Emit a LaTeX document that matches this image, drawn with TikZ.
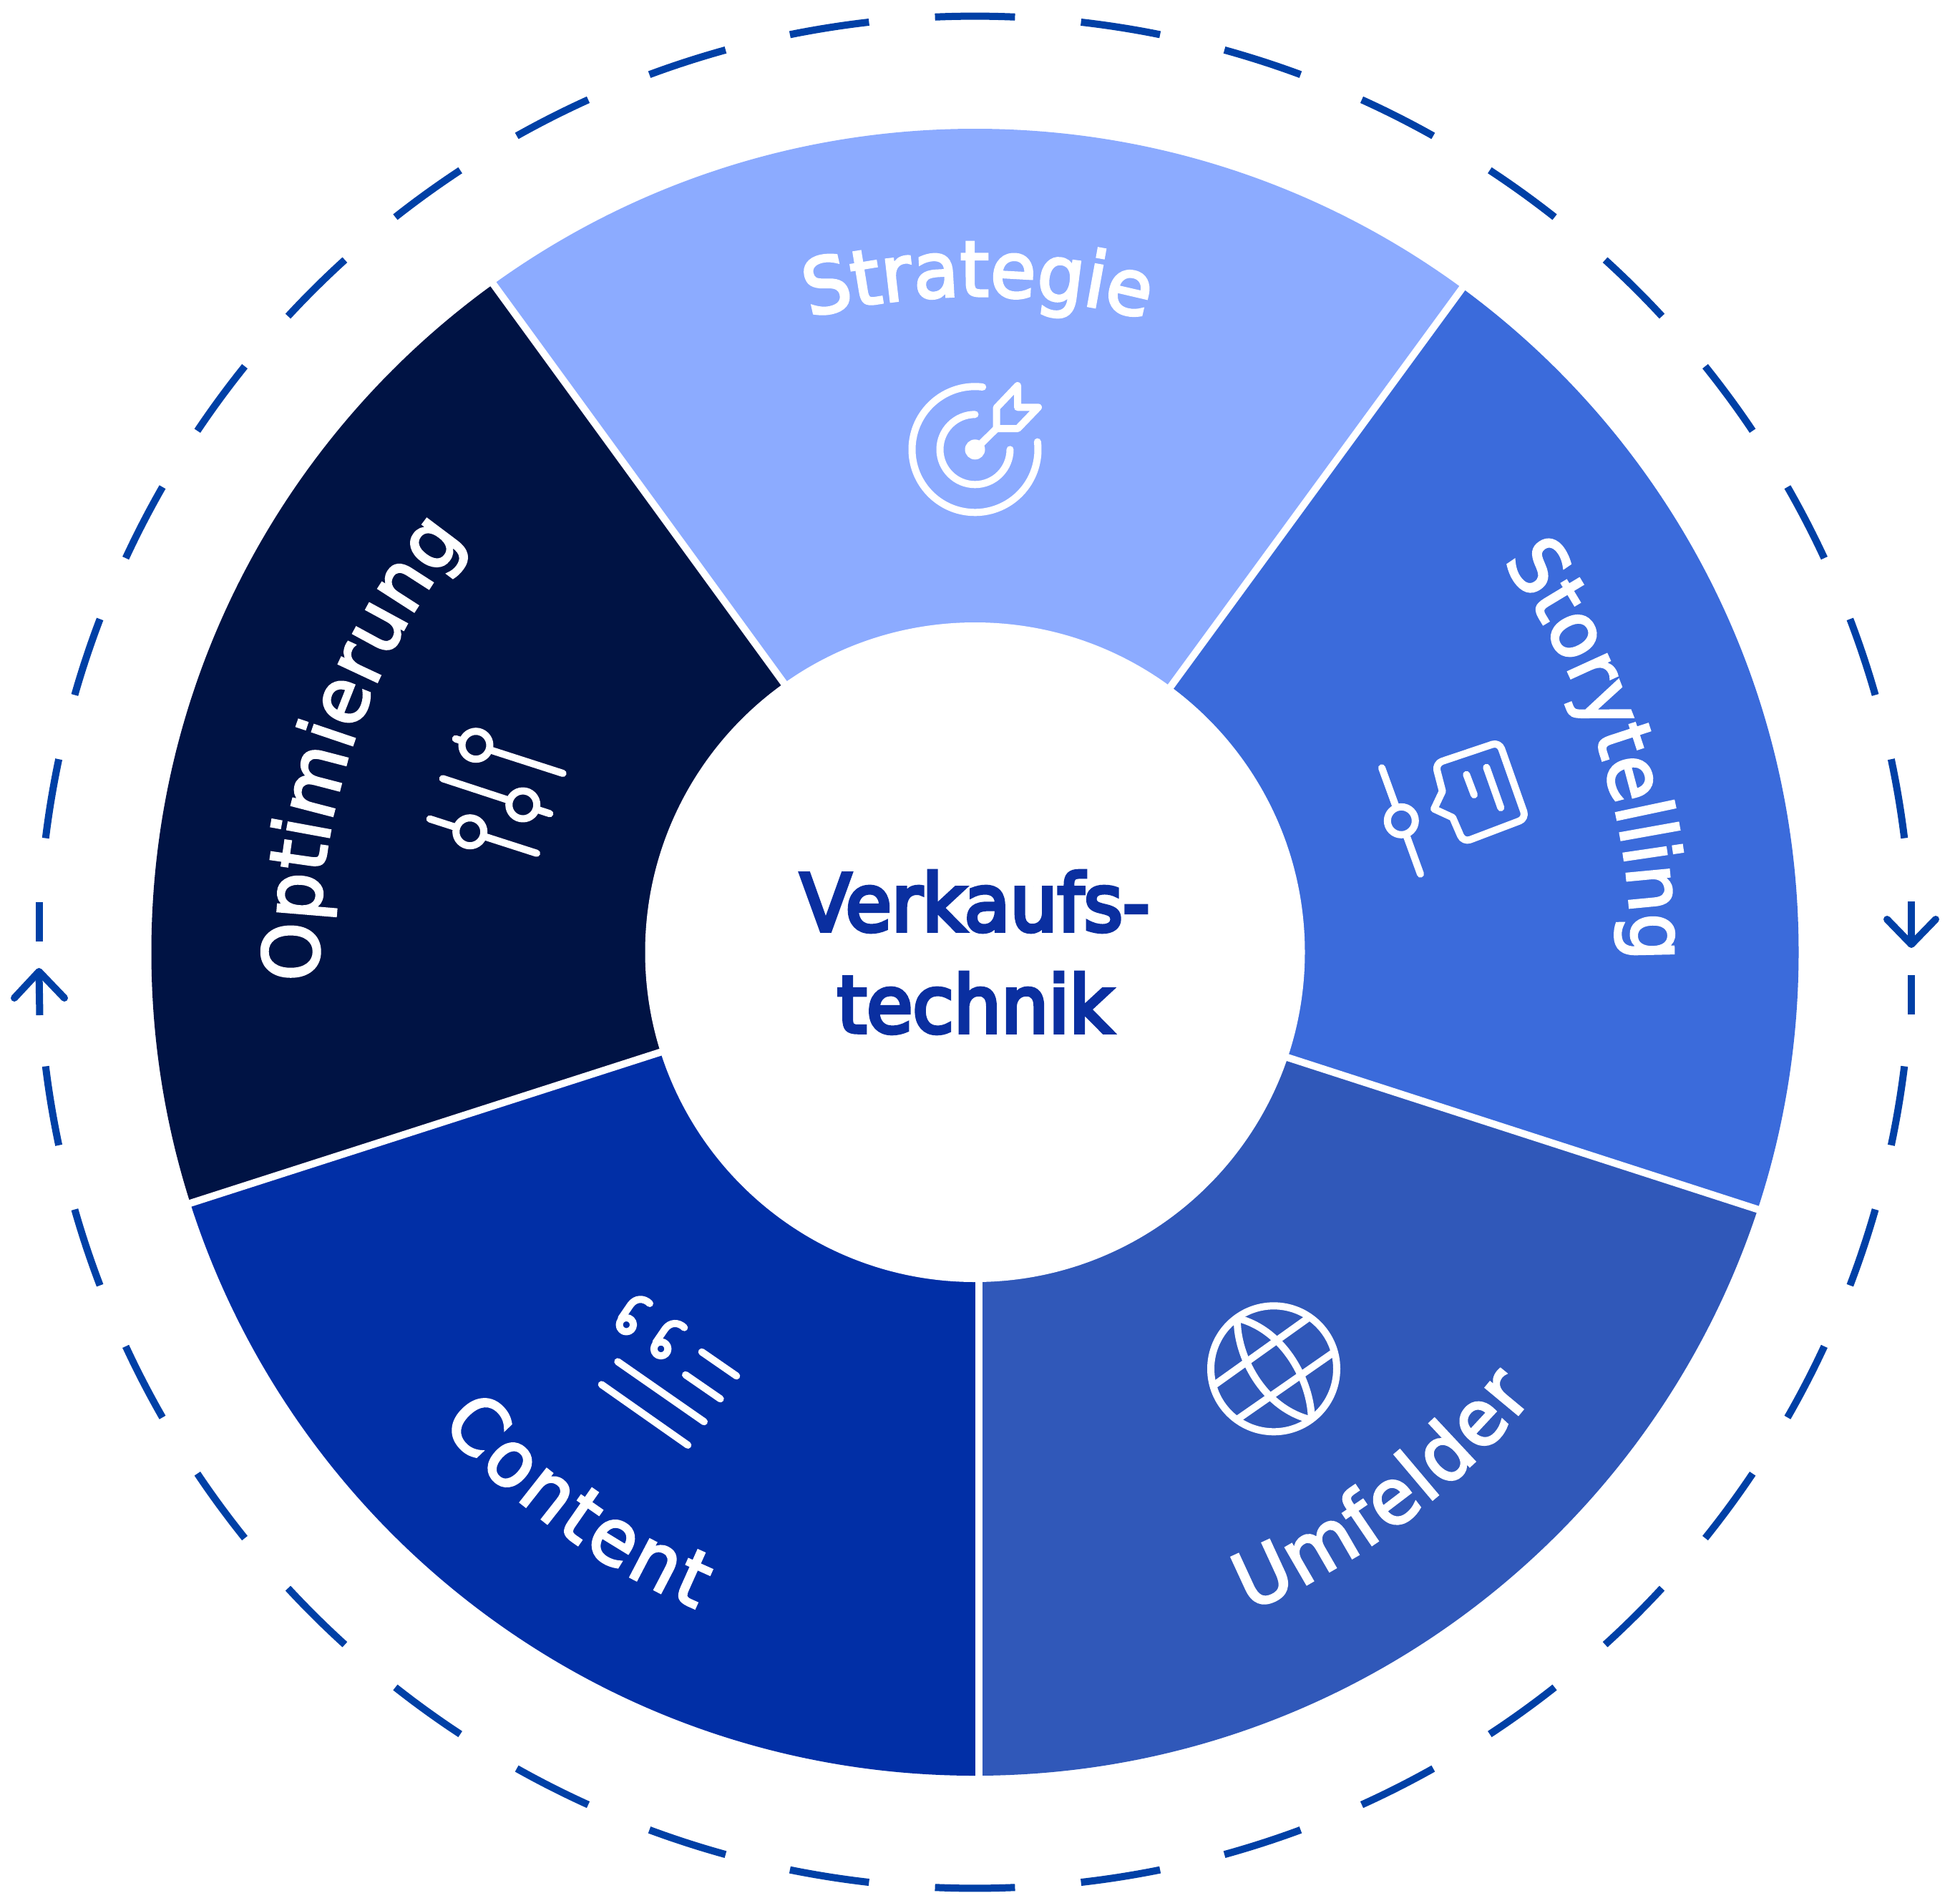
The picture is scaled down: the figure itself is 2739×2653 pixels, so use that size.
\documentclass[tikz,border=0pt]{standalone}
\usepackage{fontspec}
\usetikzlibrary{decorations.text}
\setmainfont{Liberation Sans}
\newfontfamily\rfont[FakeBold=3,FakeStretch=0.96]{DejaVu Sans}
\newfontfamily\cfont[FakeBold=5,FakeStretch=0.95]{DejaVu Sans}
\newcommand\ringtext{\rfont\fontsize{108}{108}\selectfont\color{white}}
\definecolor{cA}{HTML}{8CABFF}
\definecolor{cB}{HTML}{3B6BDB}
\definecolor{cC}{HTML}{3058B9}
\definecolor{cD}{HTML}{012FA6}
\definecolor{cE}{HTML}{001344}
\definecolor{ringc}{HTML}{0040A6}
\definecolor{titlec}{HTML}{0A2FA0}
\tikzset{
  icon/.style={draw=white,line width=10,line cap=round,line join=round},
  sep/.style={draw=white,line width=10,shorten >=-10pt,shorten <=-10pt},
  ringdash/.style={draw=ringc,line width=10},
  arrowdash/.style={draw=ringc,line width=10,line join=round,line cap=round},
  curved/.style={decorate,decoration={text along path,text align={fit to path},text={#1}}},
}
\begin{document}
\begin{tikzpicture}[x=1pt,y=-1pt]
\useasboundingbox (0,0) rectangle (2739,2653);
% line end points
\coordinate (Ai) at (1635,961);  \coordinate (Ao) at (2044,402);
\coordinate (Bi) at (1799,1478); \coordinate (Bo) at (2458,1691);
\coordinate (Ci) at (1368,1792); \coordinate (Co) at (1368,2482);
\coordinate (Di) at (922,1471);  \coordinate (Do) at (265.5,1682);
\coordinate (Ei) at (1097,957);  \coordinate (Eo) at (690,398);
\begin{scope}[shift={(1362.5,1331)},y=1pt]
  \coordinate (O) at (0,0);
  \coordinate (fA) at (90:1600); \coordinate (fB) at (18:1600);
  \coordinate (fC) at (-54:1600); \coordinate (fD) at (-126:1600); \coordinate (fE) at (162:1600);
  % ring
  \foreach \base in {90,-90}{
    \foreach \k in {-9,-8,...,9}{
      \draw[ringdash] ({\base+8.95*\k+2.45}:1308.5) arc[start angle={\base+8.95*\k+2.45},end angle={\base+8.95*\k-2.45},radius=1308.5];
    }
  }
  \begin{scope}
    \clip (0,0) circle[radius=1151];
    \fill[cA] (O) -- (Ei) -- (Eo) -- (fA) -- (Ao) -- (Ai) -- cycle;
    \fill[cB] (O) -- (Ai) -- (Ao) -- (fB) -- (Bo) -- (Bi) -- cycle;
    \fill[cC] (O) -- (Bi) -- (Bo) -- (fC) -- (Co) -- (Ci) -- cycle;
    \fill[cD] (O) -- (Ci) -- (Co) -- (fD) -- (Do) -- (Di) -- cycle;
    \fill[cE] (O) -- (Di) -- (Do) -- (fE) -- (Eo) -- (Ei) -- cycle;
  \end{scope}
  \fill[white] (0,0) circle[radius=461];
  % curved labels
  \path[curved={|\ringtext|Strategie}] (104.6:917) arc[start angle=104.6,end angle=75.4,radius=917];
  \path[curved={|\ringtext|Storytelling}] (36.5:917) arc[start angle=36.5,end angle=0.3,radius=917];
  \path[curved={|\ringtext|Optimierung}] (182.5:917) arc[start angle=182.5,end angle=141,radius=917];
  \path[curved={|\ringtext|Content}] (221.5:997) arc[start angle=221.5,end angle=247,radius=997];
  \path[curved={|\ringtext|Umfelder}] (-67.4:997) arc[start angle=-67.4,end angle=-38.5,radius=997];
  % target arcs
  \begin{scope}[shift={(0,702.7)}]
    \draw[icon] (83:88) arc[start angle=83,end angle=367,radius=88];
    \draw[icon] (90:49) arc[start angle=90,end angle=360,radius=49];
    \fill[white] (0,0) circle[radius=14];
  \end{scope}
\end{scope}
% separators
\draw[sep] (Ai) -- (Ao);
\draw[sep] (Bi) -- (Bo);
\draw[sep] (Ci) -- (Co);
\draw[sep] (Di) -- (Do);
\draw[sep] (Ei) -- (Eo);
% arrows on the ring
\draw[ringdash] (2671,1260) -- (2671,1320);
\draw[ringdash] (2671,1363) -- (2671,1418);
\draw[arrowdash] (2637,1285) -- (2671,1320) -- (2705,1285);
\draw[ringdash] (54.5,1261) -- (54.5,1316);
\draw[ringdash] (54.5,1358) -- (55.5,1419);
\draw[arrowdash] (20,1395) -- (54.5,1358) -- (90,1395);
% centre
\node[anchor=base,text=titlec,font=\cfont\fontsize{110}{110}\selectfont,inner sep=0] (t1) at (1362.5,1301) {Verkaufs-};
\node[anchor=base,text=titlec,font=\cfont\fontsize{110}{110}\selectfont,inner sep=0] (t2) at (1362.5,1443) {technik};
% Strategie icon
\draw[icon] (1362.7,628.3) -- (1392.5,599);
\draw[icon] (1392.5,599) -- (1392.5,570) -- (1422,539) -- (1422,569.3) -- (1451,569.3) -- (1422.4,599) -- cycle;
% Storytelling icon
\draw[icon] (1931,1073.3) -- (1985,1221.7);
\draw[icon,fill=cB] (1958.3,1147.3) circle[radius=19.5];
\draw[icon] (2015.7,1106) [rounded corners=10pt] -- (2005.7,1067.3) -- (2095,1037.3) -- (2132.7,1144) -- (2045,1177.3) [sharp corners] -- (2030,1142.7) -- (2004,1130.7) -- cycle;
\draw[icon] (2049.3,1082.7) -- (2060,1111);
\draw[icon] (2077.3,1072.7) -- (2097.3,1129);
% Umfelder icon
\draw[icon] (1780,1913.3) circle[radius=88];
\draw[icon] (1698.3,1935) -- (1826.7,1843.3);
\draw[icon] (1730,1983.3) -- (1861.7,1891.7);
\draw[icon] (1729,1845) .. controls (1728.3,1893.3) and (1763.3,1966.7) .. (1830,1984);
\draw[icon] (1730,1842.7) .. controls (1796.7,1860) and (1831.7,1933.3) .. (1832.7,1981.7);
% Content icon
\draw[icon] (840.7,1935.3) -- (961.3,2020);
\draw[icon] (863.3,1903.3) -- (984,1987.3);
\draw[icon] (958,1921.7) -- (1006.7,1955.3);
\draw[icon] (980.7,1889.7) -- (1029.3,1923.3);
\foreach \dx/\dy in {0/0,48.3/33.7}{
  \begin{scope}[shift={(\dx,\dy)}]
    \draw[icon] (875.3,1851.7) circle[radius=9.8];
    \draw[icon] (868,1843) -- (881,1824) .. controls (888,1814) and (900,1814) .. (908,1822);
  \end{scope}
}
% Optimierung icon
\draw[icon] (636.7,1032.7) -- (786.7,1081);
\draw[icon] (618.7,1088.3) -- (768.3,1137.3);
\draw[icon] (600.7,1144.7) -- (750,1192.7);
\draw[icon,fill=cE] (665,1041.7) circle[radius=19.5];
\draw[icon,fill=cE] (730.7,1125) circle[radius=19.5];
\draw[icon,fill=cE] (656.7,1162.7) circle[radius=19.5];
\end{tikzpicture}
\end{document}
